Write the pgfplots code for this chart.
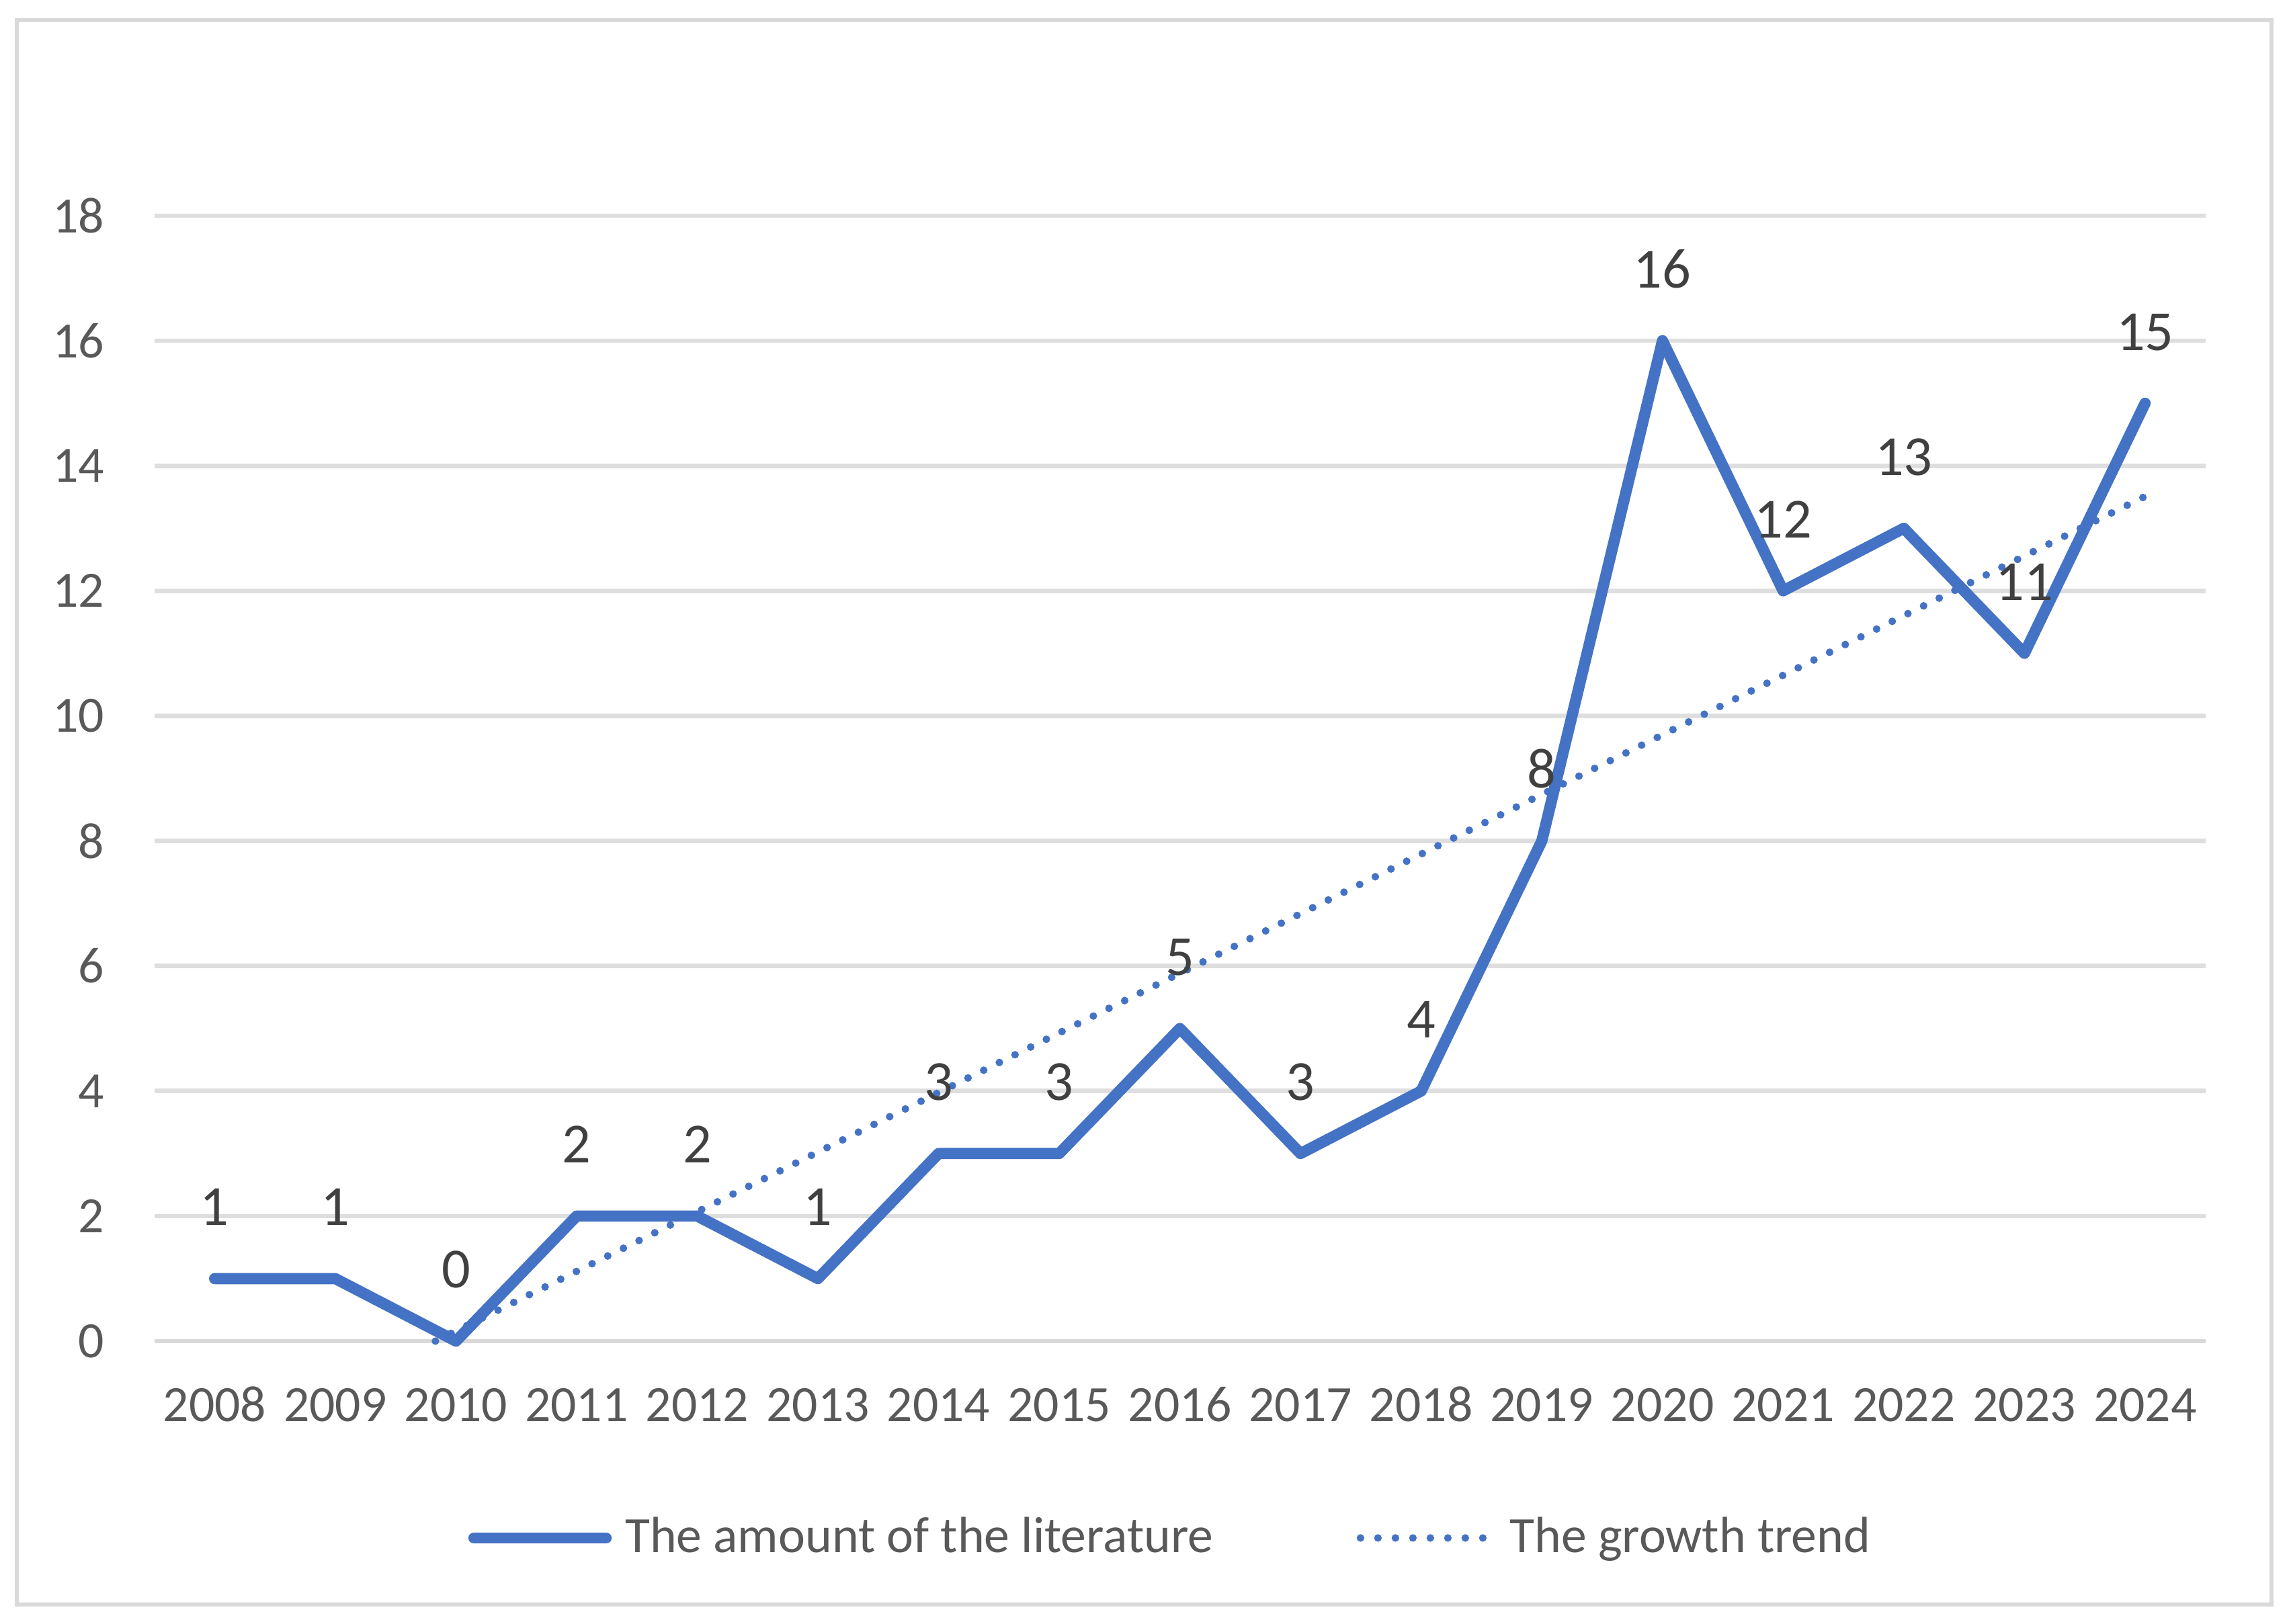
\documentclass[border=0pt]{standalone}
\usepackage{pgfplots}
\pgfplotsset{compat=1.18}
\usepackage{fontspec}
\setmainfont{Carlito}
\definecolor{lineblue}{HTML}{4472C4}
\definecolor{gridgray}{HTML}{DEDEDE}
\definecolor{axisgray}{HTML}{D9D9D9}
\definecolor{tickgray}{HTML}{595959}
\definecolor{labelgray}{HTML}{404040}
\begin{document}
\begin{tikzpicture}
\fill[white] (0,0) rectangle (510.9bp,362.55bp);
\draw[axisgray, line width=1bp] (3.75bp,4.35bp) rectangle (507bp,358.05bp);
\begin{axis}[
  at={(34.44bp,63.15bp)}, anchor=south west,
  scale only axis, width=457.8bp, height=251.25bp,
  xmin=-0.5, xmax=16.5, ymin=0, ymax=18,
  axis line style={draw=none},
  major tick length=0pt,
  tick style={draw=none},
  ytick={0,2,...,18},
  xtick={0,...,16},
  xticklabels={2008,2009,2010,2011,2012,2013,2014,2015,2016,2017,2018,2019,2020,2021,2022,2023,2024},
  ymajorgrids,
  grid style={line width=1bp, color=gridgray},
  /pgf/number format/assume math mode=true,
  tick label style={font=\fontsize{11.4}{13}\selectfont, text=tickgray},
  xticklabel style={anchor=base, inner sep=0pt, yshift=-18bp},
  yticklabel style={anchor=east, inner sep=0pt, xshift=-11bp},
  clip=false,
  legend columns=2,
  legend style={at={(axis description cs:0.1531,-0.1749)}, anchor=west,
    draw=none, fill=none, inner sep=0pt, outer sep=0pt,
    nodes={inner sep=0pt, text=tickgray, font=\fontsize{11.4}{13}\selectfont},
    /tikz/every odd column/.append style={column sep=3bp},
    /tikz/every even column/.append style={column sep=32bp}},
  legend cell align=left,
  legend image code/.code={\draw[#1] (0bp,0bp) -- (29.5bp,0bp);},
]
\draw[axisgray, line width=1bp] (axis cs:-0.5,0) -- (axis cs:16.5,0);
\addplot[lineblue, line width=2.5bp, line cap=round, line join=round,
  nodes near coords,
  every node near coord/.append style={anchor=base, inner sep=0pt, yshift=11.85bp,
    font=\fontsize{12.7}{14}\selectfont, text=labelgray}]
  coordinates {(0,1) (1,1) (2,0) (3,2) (4,2) (5,1) (6,3) (7,3) (8,5) (9,3) (10,4) (11,8) (12,16) (13,12) (14,13) (15,11) (16,15)};
\addlegendentry{The amount of the literature}
\addplot[lineblue, line width=1.7bp, line cap=round, dash pattern=on 0bp off 3.9bp]
  coordinates {(1.83,0) (16,13.51)};
\addlegendentry{The growth trend}
\end{axis}
\end{tikzpicture}
\end{document}
